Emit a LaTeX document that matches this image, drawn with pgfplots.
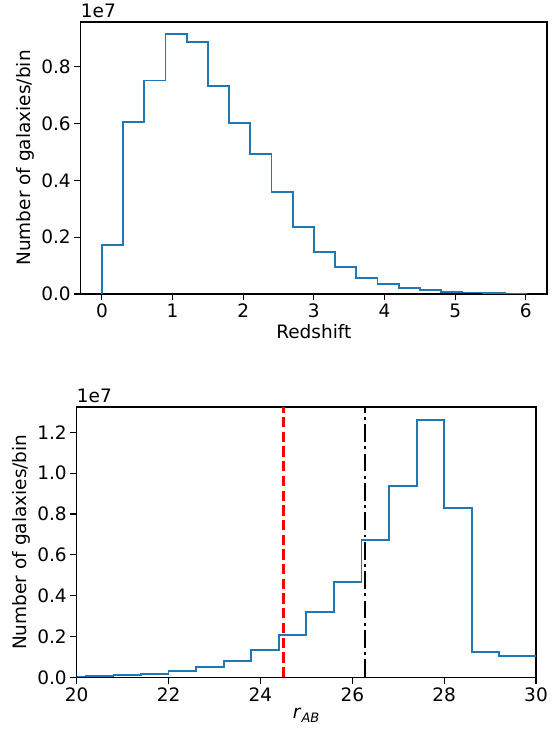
\documentclass[border=0pt]{standalone}
\usepackage{fontspec}
\setmainfont{DejaVu Sans}
\usepackage{pgfplots}
\pgfplotsset{compat=1.18}
\definecolor{mplblue}{HTML}{1F77B4}
\newcommand{\lblfont}{\fontsize{18.5bp}{22bp}\selectfont}

\pgfplotsset{
  histo/.style={
    scale only axis,
    axis line style={black, line width=1.2bp},
    tick align=outside,
    tick pos=left,
    major tick length=6.5bp,
    tick style={black, line width=1.2bp},
    ymin=0,
    /pgf/number format/assume math mode=true,
    tick label style={font=\lblfont},
    label style={font=\lblfont},
    yticklabel style={/pgf/number format/.cd, fixed, fixed zerofill, precision=1},
    ylabel={Number of galaxies/bin},
  },
}

\begin{document}
\begin{tikzpicture}
\path[use as bounding box] (0,0) rectangle (559bp,731bp);

% top: redshift distribution (units of 1e7)
\begin{axis}[histo, name=top,
  at={(80.7bp,437bp)}, anchor=south west,
  width=466.3bp, height=272bp,
  xmin=-0.3, xmax=6.3, ymax=0.957,
  xtick={0,1,2,3,4,5,6},
  ytick={0,0.2,0.4,0.6,0.8},
  xlabel={Redshift},
]
\addplot[const plot mark left, mplblue, line width=1.85bp] coordinates {
  (0,0) (0,0.172) (0.3,0.606) (0.6,0.751) (0.9,0.914) (1.2,0.888)
  (1.5,0.732) (1.8,0.601) (2.1,0.492) (2.4,0.360) (2.7,0.235)
  (3.0,0.148) (3.3,0.094) (3.6,0.057) (3.9,0.034) (4.2,0.020)
  (4.5,0.013) (4.8,0.008) (5.1,0.005) (5.4,0.003) (5.7,0.002)
  (6.0,0.002) (6.0,0)
};
\end{axis}
\node[anchor=base west, inner sep=0pt, font=\lblfont] at ([yshift=4.5bp]top.north west) {1e7};

% bottom: r_AB distribution (units of 1e7)
\begin{axis}[histo, name=bot,
  at={(76.7bp,53.7bp)}, anchor=south west,
  width=459.3bp, height=270.3bp,
  xmin=20, xmax=30, ymax=1.324,
  xtick={20,22,24,26,28,30},
  ytick={0,0.2,0.4,0.6,0.8,1.0,1.2},
  xlabel={\textit{r}\textsubscript{\textit{AB}}},
]
\addplot[const plot mark left, mplblue, line width=1.85bp] coordinates {
  (19.6,0.004) (20.2,0.006) (20.8,0.011) (21.4,0.018) (22.0,0.031)
  (22.6,0.052) (23.2,0.081) (23.8,0.132) (24.4,0.207) (25.0,0.318)
  (25.6,0.468) (26.2,0.672) (26.8,0.937) (27.4,1.260) (28.0,0.828)
  (28.6,0.124) (29.2,0.106) (29.8,0.105) (30.4,0.105)
};
\addplot[red, line width=2.3bp, dash pattern=on 10.3bp off 4.4bp] coordinates {(24.5,0) (24.5,1.324)};
\addplot[black, line width=2.3bp, dash pattern=on 17.8bp off 4.4bp on 2.8bp off 4.4bp] coordinates {(26.27,0) (26.27,1.324)};
\end{axis}
\node[anchor=base west, inner sep=0pt, font=\lblfont] at ([yshift=4.5bp]bot.north west) {1e7};
\end{tikzpicture}
\end{document}
